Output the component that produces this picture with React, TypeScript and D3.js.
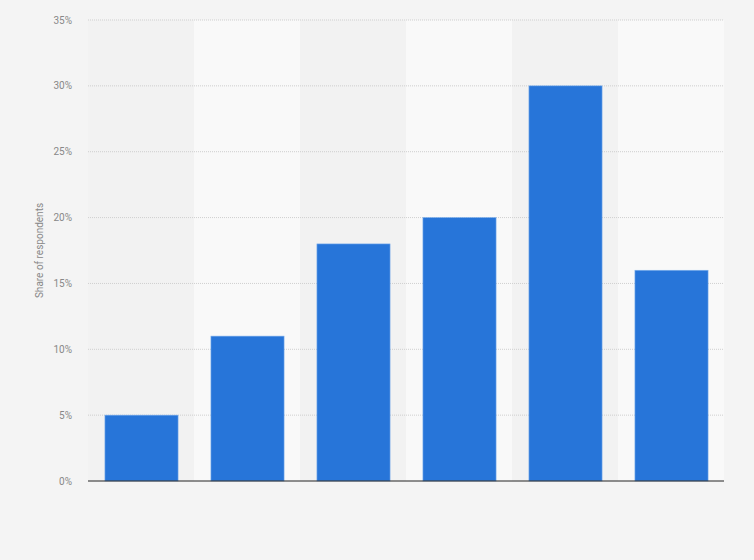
import { useEffect, useRef } from 'react';
import * as d3 from 'd3';

const categories = ['c1', 'c2', 'c3', 'c4', 'c5', 'c6'];
const shares = [5, 11, 18, 20, 30, 16];
const yTicks = [0, 5, 10, 15, 20, 25, 30, 35];

export default function App() {
  const svgRef = useRef<SVGSVGElement>(null);

  useEffect(() => {
    const svg = d3.select(svgRef.current);
    svg.selectAll('*').remove();

    const W = 754, H = 560;
    const margin = { top: 20, right: 30, bottom: 79, left: 88 };
    const innerW = W - margin.left - margin.right;
    const innerH = H - margin.top - margin.bottom;

    svg.append('rect').attr('width', W).attr('height', H).attr('fill', '#f4f4f4');

    const g = svg.append('g').attr('transform', `translate(${margin.left},${margin.top})`);

    const x = d3.scaleBand<string>().domain(categories).range([0, innerW]).paddingInner(0).paddingOuter(0);
    const y = d3.scaleLinear().domain([0, 35]).range([innerH, 0]);

    // alternating column bands
    categories.forEach((c, i) => {
      g.append('rect')
        .attr('x', x(c)!).attr('y', 0)
        .attr('width', x.bandwidth()).attr('height', innerH)
        .attr('fill', i % 2 === 1 ? '#f9f9f9' : '#f2f2f2');
    });

    // gridlines
    yTicks.filter(t => t > 0).forEach(t => {
      g.append('line')
        .attr('x1', 0).attr('x2', innerW)
        .attr('y1', y(t)).attr('y2', y(t))
        .attr('stroke', '#cfcfcf').attr('stroke-width', 1)
        .attr('stroke-dasharray', '1,1');
    });

    // tick labels
    yTicks.forEach(t => {
      g.append('text')
        .attr('x', -16).attr('y', y(t))
        .attr('dy', '0.35em')
        .attr('text-anchor', 'end')
        .attr('font-family', 'Roboto, Arial, sans-serif')
        .attr('font-size', 10).attr('fill', '#888')
        .text(`${t}%`);
    });

    // bars
    const pad = 0.31;
    const bw = x.bandwidth() * (1 - pad);
    categories.forEach((c, i) => {
      g.append('rect')
        .attr('x', x(c)! + (x.bandwidth() - bw) / 2 + 0.5)
        .attr('y', y(shares[i]))
        .attr('width', bw)
        .attr('height', innerH - y(shares[i]))
        .attr('fill', '#2775d9')
        .attr('stroke', '#7fb0ec').attr('stroke-width', 0.6);
    });

    // baseline
    g.append('line')
      .attr('x1', 0).attr('x2', innerW)
      .attr('y1', innerH).attr('y2', innerH)
      .attr('stroke', '#222').attr('stroke-width', 1.2);

    // y-axis title
    g.append('text')
      .attr('transform', 'rotate(-90)')
      .attr('x', -innerH / 2).attr('y', -45)
      .attr('text-anchor', 'middle')
      .attr('font-family', 'Roboto, Arial, sans-serif')
      .attr('font-size', 10).attr('fill', '#888')
      .text('Share of respondents');
  }, []);

  return (
    <svg
      ref={svgRef}
      width={754}
      height={560}
      style={{ position: 'absolute', left: 0, top: 0, display: 'block' }}
    />
  );
}
